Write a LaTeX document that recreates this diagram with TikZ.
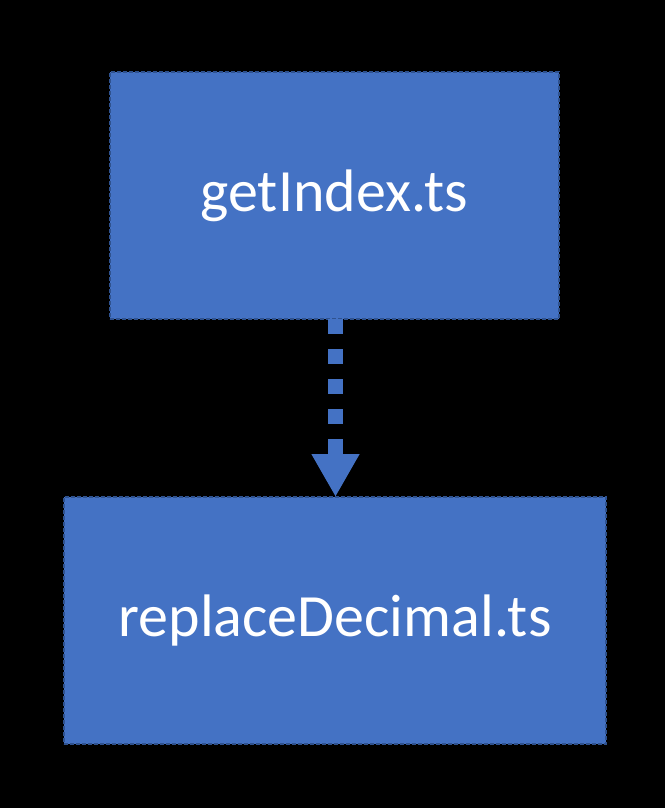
\documentclass[tikz,border=0pt]{standalone}
\usepackage{fontspec}
\setmainfont{Carlito}
\usetikzlibrary{arrows.meta}
\definecolor{boxfill}{HTML}{4472C4}
\definecolor{boxline}{HTML}{2F528F}
\tikzset{
  filebox/.style={draw=boxline, fill=boxfill, line width=1.2pt, dash pattern=on 4pt off 2pt,
    inner sep=0pt, outer sep=0pt, text=white, font=\fontsize{60}{72}\selectfont},
  depline/.style={draw=boxfill, line width=15pt, dash pattern=on 15pt off 15pt,
    -{Triangle[width=45pt,length=43pt,sep=0pt]}}
}
\begin{document}
\begin{tikzpicture}[x=1pt,y=-1pt]
\fill[black] (0,0) rectangle (665,808);
\useasboundingbox (0,0) rectangle (665,808);
\node[filebox, minimum width=449pt, minimum height=247pt] (a) at (334.5,195.5) {getIndex.ts};
\node[filebox, minimum width=542pt, minimum height=247pt] (b) at (335,620.5) {replaceDecimal.ts};
\draw[depline] ([xshift=1pt]a.south) -- ([xshift=1pt]a.south |- b.north);
\end{tikzpicture}
\end{document}
